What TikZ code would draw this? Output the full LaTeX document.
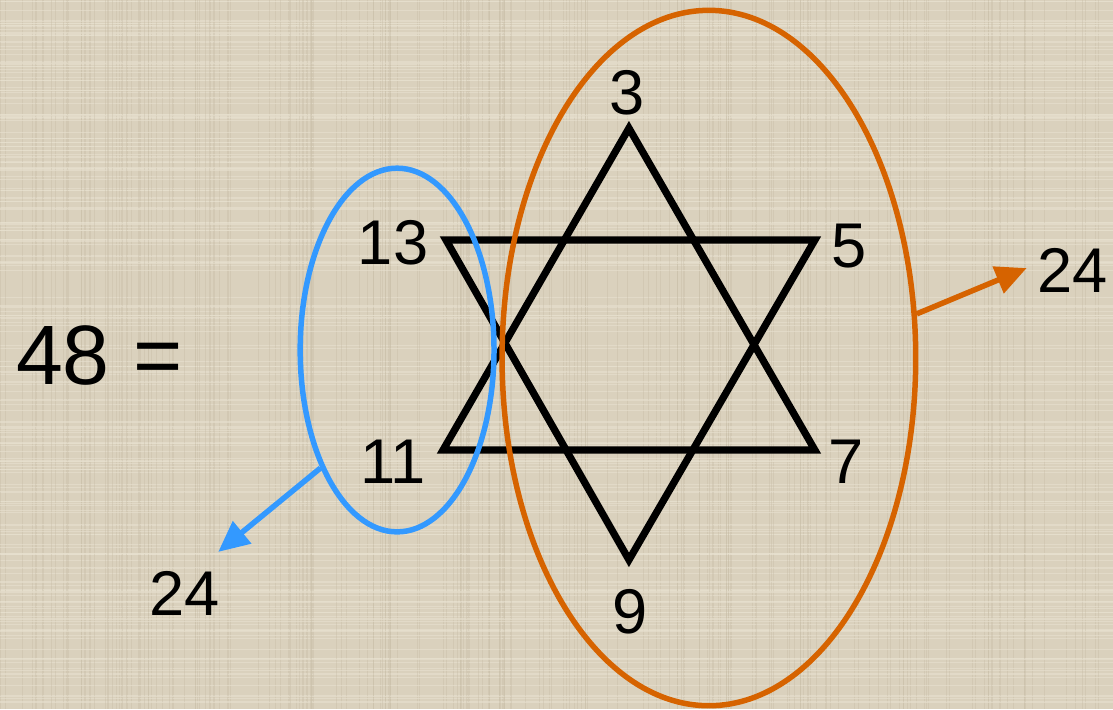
\documentclass[tikz,border=0pt]{standalone}
\usepackage{fontspec}
\setmainfont{Liberation Sans}
\usetikzlibrary{arrows.meta, shapes.geometric}
\definecolor{linen}{HTML}{DAD1BD}
\definecolor{linendark}{HTML}{C4BAA3}
\definecolor{linenlight}{HTML}{E8E1D0}
\definecolor{setblue}{HTML}{3399FF}
\definecolor{setorange}{HTML}{D66300}

\tikzset{
  starline/.style={black, line width=0.145cm, line join=miter},
  setring/.style={ellipse, draw, line width=0.11cm, inner sep=0pt},
  sumarrow/.style={line width=0.11cm, -{Triangle[length=0.62cm, width=0.56cm]}},
  numlabel/.style={font=\fontsize{36}{40}\selectfont, inner sep=0pt},
}

\begin{document}
\begin{tikzpicture}[x=0.02cm, y=0.02cm]

  %% background cloth
  \fill[linen] (0,0) rectangle (1113,709);
  \pgfmathsetseed{7}
  \foreach \i in {1,...,220}{
    \pgfmathsetmacro{\xx}{rnd*1113}
    \pgfmathsetmacro{\yy}{rnd*709}
    \draw[linendark, line width=0.3pt, opacity=0.35] (\xx,0) -- (\xx,709);
    \draw[linenlight, line width=0.4pt, opacity=0.6] (0,\yy) -- (1113,\yy);
  }
  \useasboundingbox (0,0) rectangle (1113,709);

  %% star corners
  \coordinate (up) at (629,581);
  \coordinate (upleft) at (443,259);
  \coordinate (upright) at (815,259);
  \coordinate (downleft) at (446,469);
  \coordinate (downright) at (815,469);
  \coordinate (down) at (629,149);

  \draw[starline] (up) -- (upleft) -- (upright) -- cycle;
  \draw[starline] (downleft) -- (downright) -- (down) -- cycle;

  %% numbers at the corners
  \node[numlabel] (n3) at (627,616) {3};
  \node[numlabel] (n13) at (393,466) {13};
  \node[numlabel] (n5) at (849,463) {5};
  \node[numlabel] (n11) at (393,247) {11};
  \node[numlabel] (n7) at (846,247) {7};
  \node[numlabel] (n9) at (630,97) {9};

  \node[font=\fontsize{48}{54}\selectfont, inner sep=0pt] (total) at (99,354) {48 =};

  %% the two sets
  \node[setring, setblue, minimum width=3.88cm, minimum height=7.28cm] (blueset) at (397,359) {};
  \node[setring, setorange, minimum width=8.28cm, minimum height=13.92cm] (orangeset) at (709,351) {};

  %% sums
  \node[numlabel] (rightsum) at (1073,439) {24};
  \node[numlabel] (leftsum) at (184,115) {24};
  \coordinate (righttip) at (1027,441);
  \coordinate (lefttip) at (218,157);

  \draw[sumarrow, setorange] (orangeset.12.5) -- (righttip);
  \draw[sumarrow, setblue] (blueset.237) -- (lefttip);

\end{tikzpicture}
\end{document}
